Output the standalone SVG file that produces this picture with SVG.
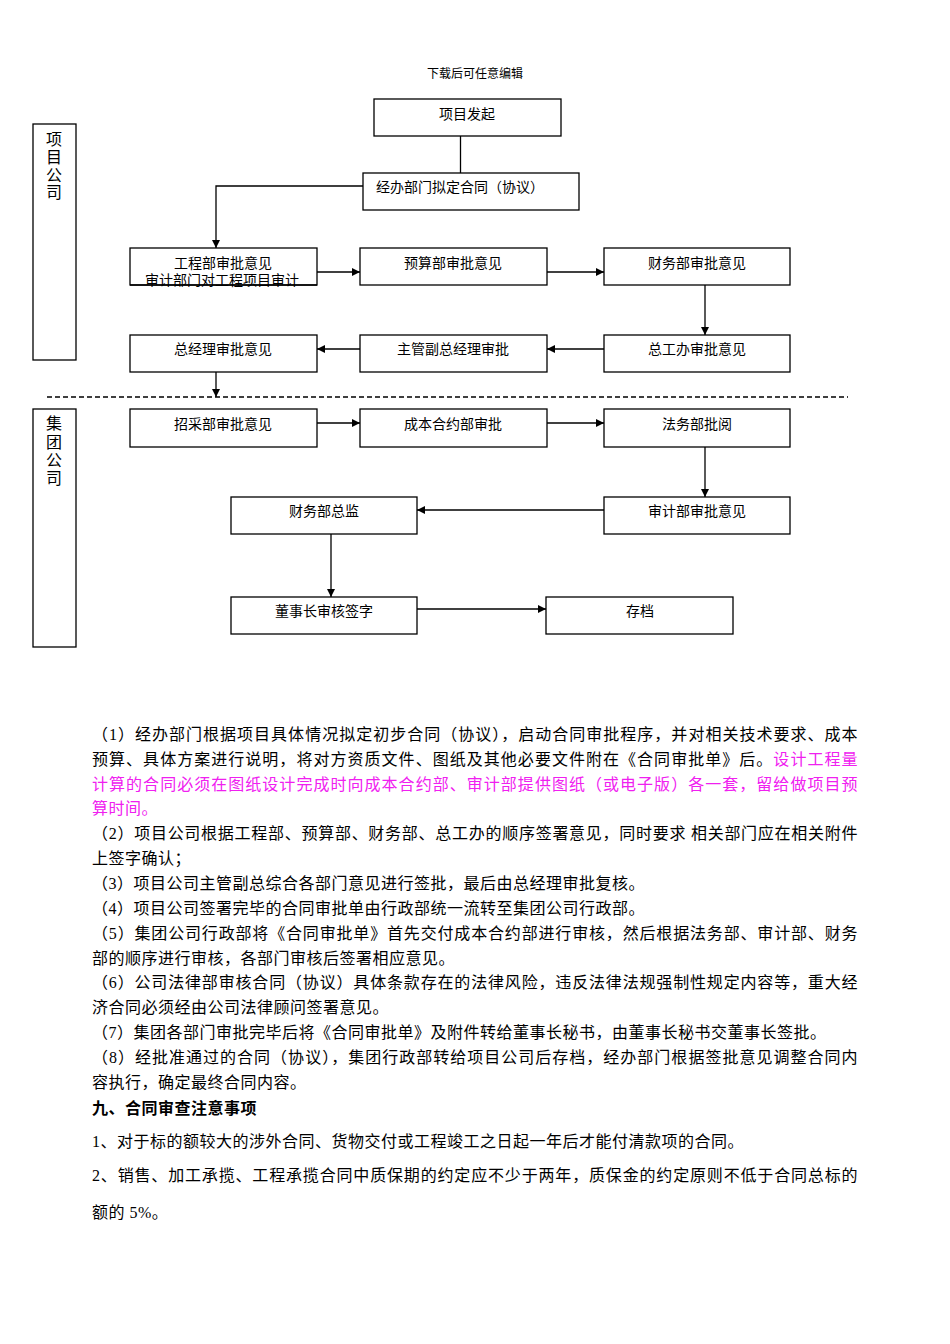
<svg xmlns="http://www.w3.org/2000/svg" width="950" height="1344" viewBox="0 0 950 1344">
<style>
text { font-family: "Liberation Serif", "Noto Sans CJK SC", serif; fill: #000; }
.box { fill: #fff; stroke: #000; stroke-width: 1.3; }
.lbl { font-size: 14px; text-anchor: middle; }
.lane { font-size: 16px; text-anchor: middle; }
.p { font-size: 16px; letter-spacing: 0.5px; }
.mag { fill: #f020f0; }
.hd { font-weight: bold; }
.c { stroke: #000; stroke-width: 1.3; fill: none; }
.dash { stroke: #000; stroke-width: 1.3; stroke-dasharray: 5 3; fill: none; }
</style>
<defs>
<marker id="ah" viewBox="0 0 10 10" refX="10" refY="5" markerWidth="9" markerHeight="8" markerUnits="userSpaceOnUse" orient="auto">
<path d="M0,0 L10,5 L0,10 z" fill="#000"/>
</marker>
</defs>
<rect width="950" height="1344" fill="#fff"/>
<text x="475" y="78" font-size="12" text-anchor="middle">下载后可任意编辑</text>

<g id="lane-project">
<rect class="box" x="33" y="124" width="43" height="236"/>
<text class="lane" x="54" y="145">项</text>
<text class="lane" x="54" y="163">目</text>
<text class="lane" x="54" y="181">公</text>
<text class="lane" x="54" y="198">司</text>
</g>
<g id="lane-group">
<rect class="box" x="33" y="409" width="43" height="238"/>
<text class="lane" x="54" y="429">集</text>
<text class="lane" x="54" y="448">团</text>
<text class="lane" x="54" y="466">公</text>
<text class="lane" x="54" y="484">司</text>
</g>

<g id="connectors">
<line class="c" x1="460.5" y1="136" x2="460.5" y2="173"/>
<path class="c" d="M363,186 H216 V248" marker-end="url(#ah)"/>
<line class="c" x1="317" y1="272" x2="360" y2="272" marker-end="url(#ah)"/>
<line class="c" x1="547" y1="272" x2="604" y2="272" marker-end="url(#ah)"/>
<line class="c" x1="705" y1="285" x2="705" y2="335" marker-end="url(#ah)"/>
<line class="c" x1="604" y1="349" x2="547" y2="349" marker-end="url(#ah)"/>
<line class="c" x1="360" y1="349" x2="317" y2="349" marker-end="url(#ah)"/>
<line class="c" x1="216" y1="372" x2="216" y2="397" marker-end="url(#ah)"/>
<line class="dash" x1="47" y1="397" x2="848" y2="397"/>
<line class="c" x1="317" y1="423" x2="360" y2="423" marker-end="url(#ah)"/>
<line class="c" x1="547" y1="423" x2="604" y2="423" marker-end="url(#ah)"/>
<line class="c" x1="705" y1="446" x2="705" y2="497" marker-end="url(#ah)"/>
<line class="c" x1="604" y1="510" x2="417" y2="510" marker-end="url(#ah)"/>
<line class="c" x1="331" y1="534" x2="331" y2="597" marker-end="url(#ah)"/>
<line class="c" x1="417" y1="609" x2="546" y2="609" marker-end="url(#ah)"/>
</g>

<g id="n-start"><rect class="box" x="374" y="99" width="187" height="37"/><text class="lbl" x="467" y="119">项目发起</text></g>
<g id="n-draft"><rect class="box" x="363" y="173" width="216" height="37"/><text class="lbl" x="376" y="192" style="text-anchor:start">经办部门拟定合同（协议）</text></g>
<g id="n-eng"><rect class="box" x="130" y="248" width="187" height="37"/><text class="lbl" x="223" y="268">工程部审批意见</text><text class="lbl" x="222" y="285">审计部门对工程项目审计</text><line class="c" x1="130" y1="285" x2="317" y2="285"/></g>
<g id="n-budget"><rect class="box" x="360" y="248" width="187" height="37"/><text class="lbl" x="453" y="268">预算部审批意见</text></g>
<g id="n-fin"><rect class="box" x="604" y="248" width="186" height="37"/><text class="lbl" x="697" y="268">财务部审批意见</text></g>
<g id="n-gm"><rect class="box" x="130" y="335" width="187" height="37"/><text class="lbl" x="223" y="354">总经理审批意见</text></g>
<g id="n-vgm"><rect class="box" x="360" y="335" width="187" height="37"/><text class="lbl" x="453" y="354">主管副总经理审批</text></g>
<g id="n-chief"><rect class="box" x="604" y="335" width="186" height="37"/><text class="lbl" x="697" y="354">总工办审批意见</text></g>
<g id="n-purchase"><rect class="box" x="130" y="409" width="187" height="38"/><text class="lbl" x="223" y="429">招采部审批意见</text></g>
<g id="n-cost"><rect class="box" x="360" y="409" width="187" height="38"/><text class="lbl" x="453" y="429">成本合约部审批</text></g>
<g id="n-legal"><rect class="box" x="604" y="409" width="186" height="38"/><text class="lbl" x="697" y="429">法务部批阅</text></g>
<g id="n-audit"><rect class="box" x="604" y="497" width="186" height="37"/><text class="lbl" x="697" y="516">审计部审批意见</text></g>
<g id="n-cfo"><rect class="box" x="231" y="497" width="186" height="37"/><text class="lbl" x="324" y="516">财务部总监</text></g>
<g id="n-chair"><rect class="box" x="231" y="597" width="186" height="37"/><text class="lbl" x="324" y="616">董事长审核签字</text></g>
<g id="n-archive"><rect class="box" x="546" y="597" width="187" height="37"/><text class="lbl" x="640" y="616">存档</text></g>

<g id="body">
<text class="p" x="92" y="740" textLength="766" lengthAdjust="spacing">（1）经办部门根据项目具体情况拟定初步合同（协议），启动合同审批程序，并对相关技术要求、成本</text>
<text class="p" x="92" y="765" textLength="766" lengthAdjust="spacing">预算、具体方案进行说明，将对方资质文件、图纸及其他必要文件附在《合同审批单》后。<tspan class="mag">设计工程量</tspan></text>
<text class="p mag" x="92" y="790" textLength="766" lengthAdjust="spacing">计算的合同必须在图纸设计完成时向成本合约部、审计部提供图纸（或电子版）各一套，留给做项目预</text>
<text class="p mag" x="92" y="814">算时间。</text>
<text class="p" x="92" y="839" textLength="766" lengthAdjust="spacing">（2）项目公司根据工程部、预算部、财务部、总工办的顺序签署意见，同时要求 相关部门应在相关附件</text>
<text class="p" x="92" y="864">上签字确认；</text>
<text class="p" x="92" y="889">（3）项目公司主管副总综合各部门意见进行签批，最后由总经理审批复核。</text>
<text class="p" x="92" y="914">（4）项目公司签署完毕的合同审批单由行政部统一流转至集团公司行政部。</text>
<text class="p" x="92" y="939" textLength="766" lengthAdjust="spacing">（5）集团公司行政部将《合同审批单》首先交付成本合约部进行审核，然后根据法务部、审计部、财务</text>
<text class="p" x="92" y="964">部的顺序进行审核，各部门审核后签署相应意见。</text>
<text class="p" x="92" y="988" textLength="766" lengthAdjust="spacing">（6）公司法律部审核合同（协议）具体条款存在的法律风险，违反法律法规强制性规定内容等，重大经</text>
<text class="p" x="92" y="1013">济合同必须经由公司法律顾问签署意见。</text>
<text class="p" x="92" y="1038">（7）集团各部门审批完毕后将《合同审批单》及附件转给董事长秘书，由董事长秘书交董事长签批。</text>
<text class="p" x="92" y="1063" textLength="766" lengthAdjust="spacing">（8）经批准通过的合同（协议），集团行政部转给项目公司后存档，经办部门根据签批意见调整合同内</text>
<text class="p" x="92" y="1088">容执行，确定最终合同内容。</text>
<text class="p hd" x="92" y="1114">九、合同审查注意事项</text>
<text class="p" x="92" y="1147">1、对于标的额较大的涉外合同、货物交付或工程竣工之日起一年后才能付清款项的合同。</text>
<text class="p" x="92" y="1181" textLength="766" lengthAdjust="spacing">2、销售、加工承揽、工程承揽合同中质保期的约定应不少于两年，质保金的约定原则不低于合同总标的</text>
<text class="p" x="92" y="1218">额的 5%。</text>
</g>
</svg>
